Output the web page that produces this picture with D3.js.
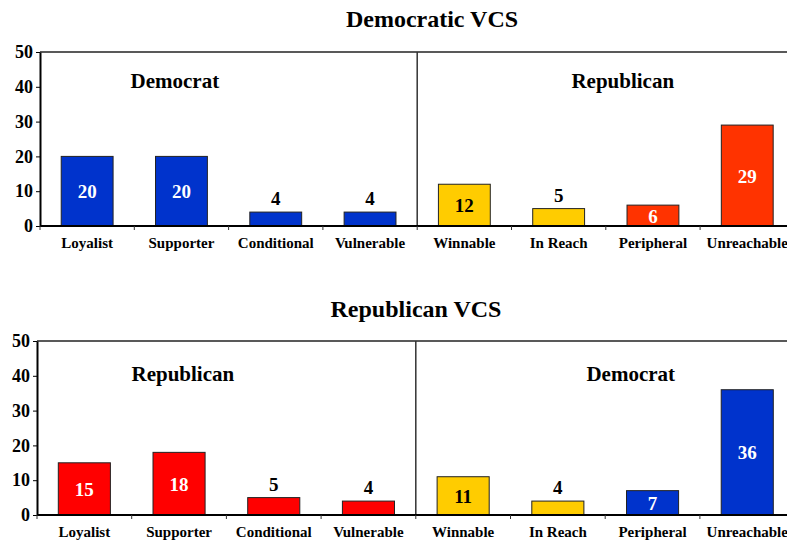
<!DOCTYPE html>
<html>
<head>
<meta charset="utf-8">
<script src="https://d3js.org/d3.v7.min.js"></script>
<style>
  body { margin: 0; background: #fff; }
  svg text { font-family: "Times New Roman", "Liberation Serif", serif !important; font-weight: bold; }
</style>
</head>
<body>
<script>
// categories shared by both panels
const categories = ["Loyalist", "Supporter", "Conditional", "Vulnerable",
                    "Winnable", "In Reach", "Peripheral", "Unreachable"];
// kind of each bar: own party, swing, other party
const kinds = ["own", "own", "own", "own", "swing", "swing", "opp", "opp"];

const demValues = [20, 20, 4, 4, 12, 5, 6, 29];
const repValues = [15, 18, 5, 4, 11, 4, 7, 36];

const yTicks = [0, 10, 20, 30, 40, 50];

const width = 787, height = 540;
const serif = "'Liberation Serif', 'Times New Roman', serif";

const svg = d3.select("body").append("svg")
    .attr("width", width)
    .attr("height", height)
    .attr("font-family", serif);

function panel(opts) {
    let g = svg.append("g");

    let x = d3.scaleBand()
        .domain(categories)
        .range([opts.left, opts.left + 8 * opts.step])
        .paddingInner(0.45)
        .paddingOuter(0.225);

    let y = d3.scaleLinear()
        .domain([0, 50])
        .range([opts.bottom, opts.top]);

    let color = d3.scaleOrdinal()
        .domain(["own", "swing", "opp"])
        .range(opts.colors);

    // title
    g.append("text")
        .attr("x", opts.titleX)
        .attr("y", opts.titleY)
        .attr("text-anchor", "middle")
        .style("font-size", "24px")
        .text(opts.title);

    // top border and divider
    g.append("line")
        .attr("x1", opts.left).attr("x2", width)
        .attr("y1", y(50)).attr("y2", y(50))
        .attr("stroke", "#222").attr("stroke-width", 1.5);
    let mid = opts.left + 4 * x.step();
    g.append("line")
        .attr("x1", mid).attr("x2", mid)
        .attr("y1", y(50)).attr("y2", y(0))
        .attr("stroke", "#333").attr("stroke-width", 1.5);

    // group labels
    g.append("text")
        .attr("x", opts.left + opts.groupPos[0] * x.step())
        .attr("y", opts.groupY)
        .attr("text-anchor", "middle")
        .style("font-size", "21px")
        .text(opts.groups[0]);
    g.append("text")
        .attr("x", opts.left + opts.groupPos[1] * x.step())
        .attr("y", opts.groupY)
        .attr("text-anchor", "middle")
        .style("font-size", "21px")
        .text(opts.groups[1]);

    let data = categories.map((c, i) => ({ cat: c, value: opts.values[i], kind: kinds[i] }));

    // bars
    g.append("g")
        .selectAll("rect")
        .data(data)
        .join("rect")
            .attr("x", d => x(d.cat))
            .attr("width", x.bandwidth())
            .attr("y", d => y(d.value))
            .attr("height", d => y(0) - y(d.value))
            .attr("fill", d => color(d.kind))
            .attr("stroke", "#222")
            .attr("stroke-width", 1);

    // value labels
    g.append("g")
        .selectAll("text")
        .data(data)
        .join("text")
            .attr("x", d => x(d.cat) + x.bandwidth() / 2)
            .attr("y", function (d) {
                if (d.value < 6) return y(d.value) - 7;
                return (y(d.value) + y(0)) / 2 + 7;
            })
            .attr("text-anchor", "middle")
            .style("font-size", "19px")
            .attr("fill", function (d) {
                if (d.value < 6 || d.kind == "swing") return "black";
                return "white";
            })
            .text(d => d.value);

    // y axis
    let yAxis = g.append("g")
        .attr("transform", `translate(${opts.left},0)`)
        .call(d3.axisLeft(y).tickValues(yTicks).tickSize(4).tickPadding(3).tickSizeOuter(0));
    yAxis.attr("font-family", serif);
    yAxis.select(".domain").attr("stroke-width", 2);
    yAxis.selectAll("text").style("font-size", "18px").attr("fill", "black");

    // x axis
    let xAxis = g.append("g")
        .attr("transform", `translate(0,${y(0)})`)
        .call(d3.axisBottom(x).tickSize(0).tickPadding(11));
    xAxis.attr("font-family", serif);
    xAxis.select(".domain").attr("d", `M${opts.left},0H${width}`).attr("stroke-width", 2);
    xAxis.selectAll("text").style("font-size", "15px").attr("fill", "black");

    // boundary ticks between categories
    g.append("g")
        .selectAll("line")
        .data(d3.range(0, 9))
        .join("line")
            .attr("x1", i => opts.left + i * x.step())
            .attr("x2", i => opts.left + i * x.step())
            .attr("y1", y(0))
            .attr("y2", y(0) + 4)
            .attr("stroke", "#333");
}

panel({
    title: "Democratic VCS", titleX: 432, titleY: 27,
    left: 40, step: 94.3, top: 52, bottom: 226,
    groups: ["Democrat", "Republican"], groupPos: [1.43, 6.18], groupY: 88,
    values: demValues,
    colors: ["#0033cc", "#ffcc00", "#ff3300"]
});

panel({
    title: "Republican VCS", titleX: 416, titleY: 317,
    left: 37, step: 94.7, top: 341, bottom: 515,
    groups: ["Republican", "Democrat"], groupPos: [1.54, 6.27], groupY: 381,
    values: repValues,
    colors: ["#ff0000", "#ffcc00", "#0033cc"]
});
</script>
</body>
</html>
